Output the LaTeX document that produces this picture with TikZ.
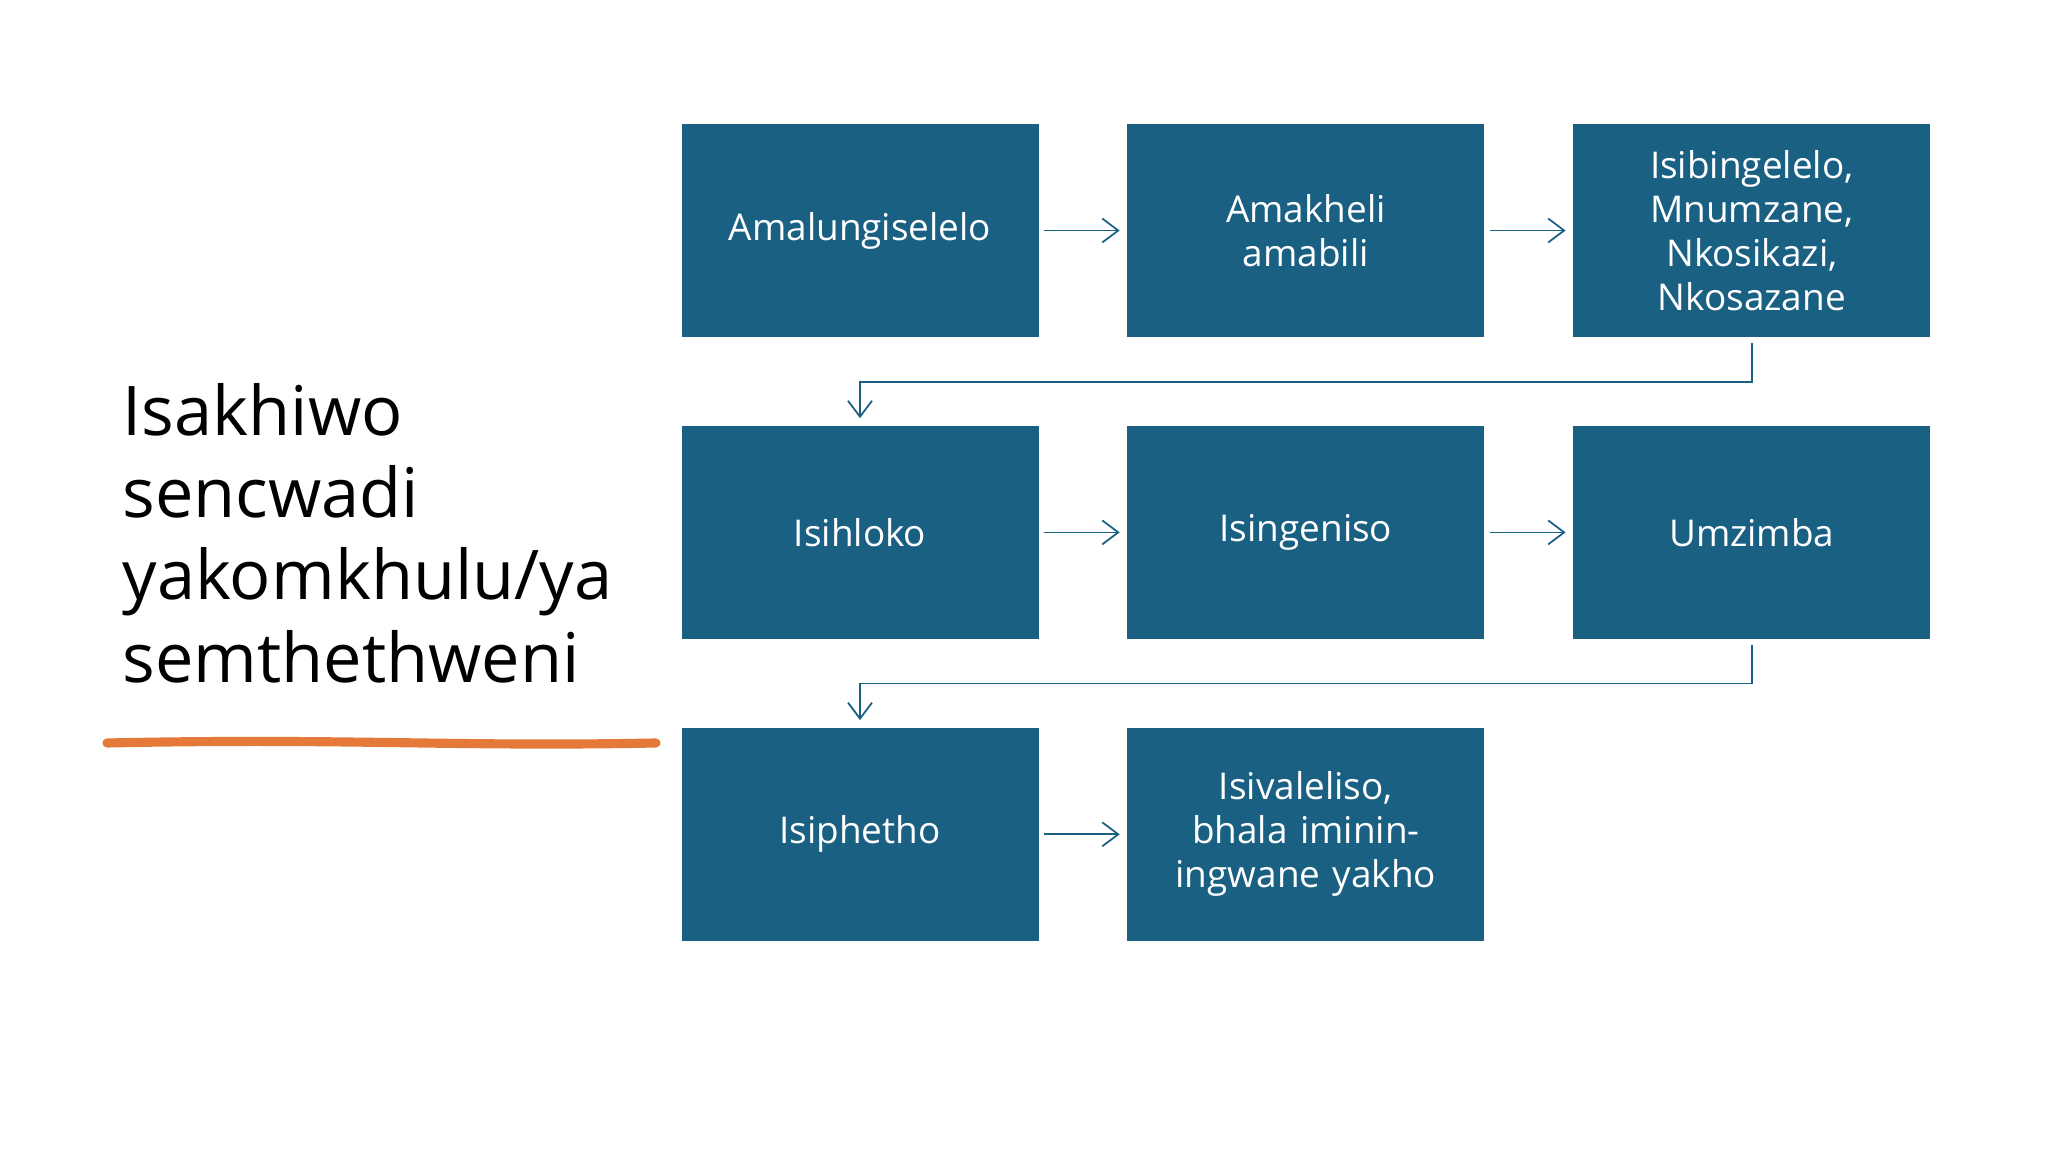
\documentclass[tikz,border=0pt]{standalone}
\usepackage{fontspec}
\setmainfont{Open Sans}
\usetikzlibrary{arrows.meta, positioning}
\definecolor{boxblue}{HTML}{1A6083}
\definecolor{markorange}{HTML}{E4793A}
\begin{document}
\begin{tikzpicture}[
    node distance=0.875cm,
    stepbox/.style={rectangle, draw=none, fill=boxblue, text=white, minimum width=3.57cm, minimum height=2.13cm, inner sep=2pt, text width=3.3cm, align=center, font=\fontsize{10.5}{12.5}\selectfont},
    arrow/.style={-{Straight Barb[length=1.6mm, width=2.4mm]}, draw=boxblue, line width=0.5pt, shorten <=0.05cm, shorten >=0.07cm}
]
    \useasboundingbox (0,0) rectangle (20.48,11.52);

    \node[stepbox] (prep) at (8.60,9.215) {Amalungiselelo};
    \node[stepbox, right=of prep] (addr) {Amakheli\\amabili};
    \node[stepbox, right=of addr] (greet) {Isibingelelo, Mnumzane, Nkosikazi, Nkosazane};
    \node[stepbox, below=of prep] (subject) {Isihloko};
    \node[stepbox, right=of subject] (intro) {Isingeniso};
    \node[stepbox, right=of intro] (body) {Umzimba};
    \node[stepbox, below=of subject] (concl) {Isiphetho};
    \node[stepbox, right=of concl] (close) {Isivaleliso, bhala imininingwane yakho};

    \draw[arrow] (prep) -- (addr);
    \draw[arrow] (addr) -- (greet);
    \draw[arrow] (greet.south) -- ++(0,-0.44) -| (subject.north);
    \draw[arrow] (subject) -- (intro);
    \draw[arrow] (intro) -- (body);
    \draw[arrow] (body.south) -- ++(0,-0.44) -| (concl.north);
    \draw[arrow] (concl) -- (close);

    \node[anchor=west, align=left, font=\fontsize{19.5}{23.4}\selectfont, inner sep=0pt] (title) at (1.22,6.19)
        {Isakhiwo\\sencwadi\\yakomkhulu/ya\\semthethweni};
    \draw[markorange, line width=2.6pt, line cap=round] (1.07,4.09) .. controls (3.5,4.14) and (4.5,4.05) .. (6.56,4.09);
\end{tikzpicture}
\end{document}
